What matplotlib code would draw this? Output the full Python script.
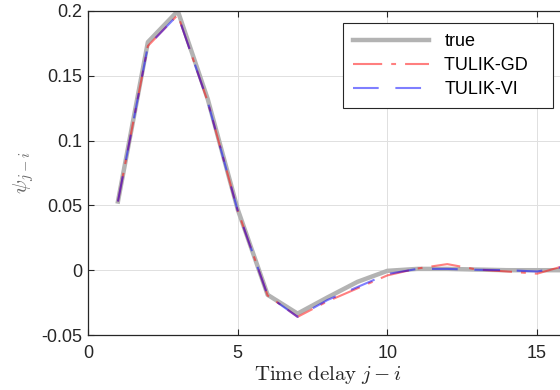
import matplotlib
matplotlib.use("Agg")
import matplotlib.pyplot as plt

delay = [1, 2, 3, 4, 5, 6, 7, 8, 9, 10, 11, 12, 13, 14, 15, 16]
psi_true = [0.053, 0.176, 0.200, 0.132, 0.047, -0.019, -0.0335, -0.021, -0.009,
            -0.0005, 0.001, 0.001, 0.0005, 0.0, 0.0, 0.0]
psi_gd = [0.053, 0.173, 0.197, 0.130, 0.046, -0.0195, -0.036, -0.024, -0.014,
          -0.004, 0.0013, 0.0047, 0.0005, -0.001, -0.0027, 0.004]
psi_vi = [0.053, 0.173, 0.197, 0.130, 0.046, -0.0195, -0.036, -0.023, -0.013,
          -0.003, 0.001, 0.001, 0.0003, 0.0, -0.001, 0.003]
xticks = [0, 5, 10, 15]
yticks = [-0.05, 0, 0.05, 0.1, 0.15, 0.2]
yticklabels = ["-0.05", "0", "0.05", "0.1", "0.15", "0.2"]

plt.rcParams['font.family'] = ['Liberation Sans', 'DejaVu Sans']
plt.rcParams['mathtext.fontset'] = 'cm'
plt.rcParams['lines.scale_dashes'] = False

fig = plt.figure(figsize=(5.6, 3.9), dpi=100)
ax = fig.add_axes([88/560, 1 - 335/390, (567 - 88)/560, (335 - 11)/390])

ax.plot(delay, psi_true, color=(0.7, 0.7, 0.7), lw=3.2, label='true', zorder=2)
ax.plot(delay, psi_gd, color=(1, 0, 0), alpha=0.5, lw=1.5, dashes=[21, 6.5, 3.5, 6.5],
        label='TULIK-GD   ', zorder=3)
ax.plot(delay, psi_vi, color=(0, 0, 1), alpha=0.5, lw=1.5, dashes=[18.5, 12],
        label='TULIK-VI', zorder=4)

ax.set_xlim(0, 16)
ax.set_ylim(-0.05, 0.2)
ax.set_xticks(xticks)
ax.set_xticklabels([str(t) for t in xticks])
ax.set_yticks(yticks)
ax.set_yticklabels(yticklabels)
ax.grid(True, color=(0.88, 0.88, 0.88), lw=0.7)
ax.set_axisbelow(True)
ax.tick_params(direction='in', length=4, width=0.8, labelsize=13, colors=(0.15, 0.15, 0.15),
               top=True, right=True, pad=4)
ax.tick_params(axis='x', pad=7)
for s in ax.spines.values():
    s.set_color((0.15, 0.15, 0.15))
    s.set_linewidth(0.9)

ax.set_xlabel(r'$\mathrm{Time\ delay}\ j-i$', fontsize=15, color=(0.15, 0.15, 0.15), labelpad=2)
ax.set_ylabel(r'$\psi_{j-i}$', fontsize=15, color=(0.4, 0.4, 0.4), labelpad=4)

leg = ax.legend(loc='upper right', bbox_to_anchor=((553 - 88)/(567 - 88), 1 - 12/324),
                borderaxespad=0, fontsize=13, handlelength=4.2, handletextpad=0.85,
                labelspacing=0.4, fancybox=False, framealpha=1, edgecolor=(0.15, 0.15, 0.15),
                borderpad=0.55)
leg.get_frame().set_linewidth(0.8)

fig.savefig('out.png', dpi=100)
